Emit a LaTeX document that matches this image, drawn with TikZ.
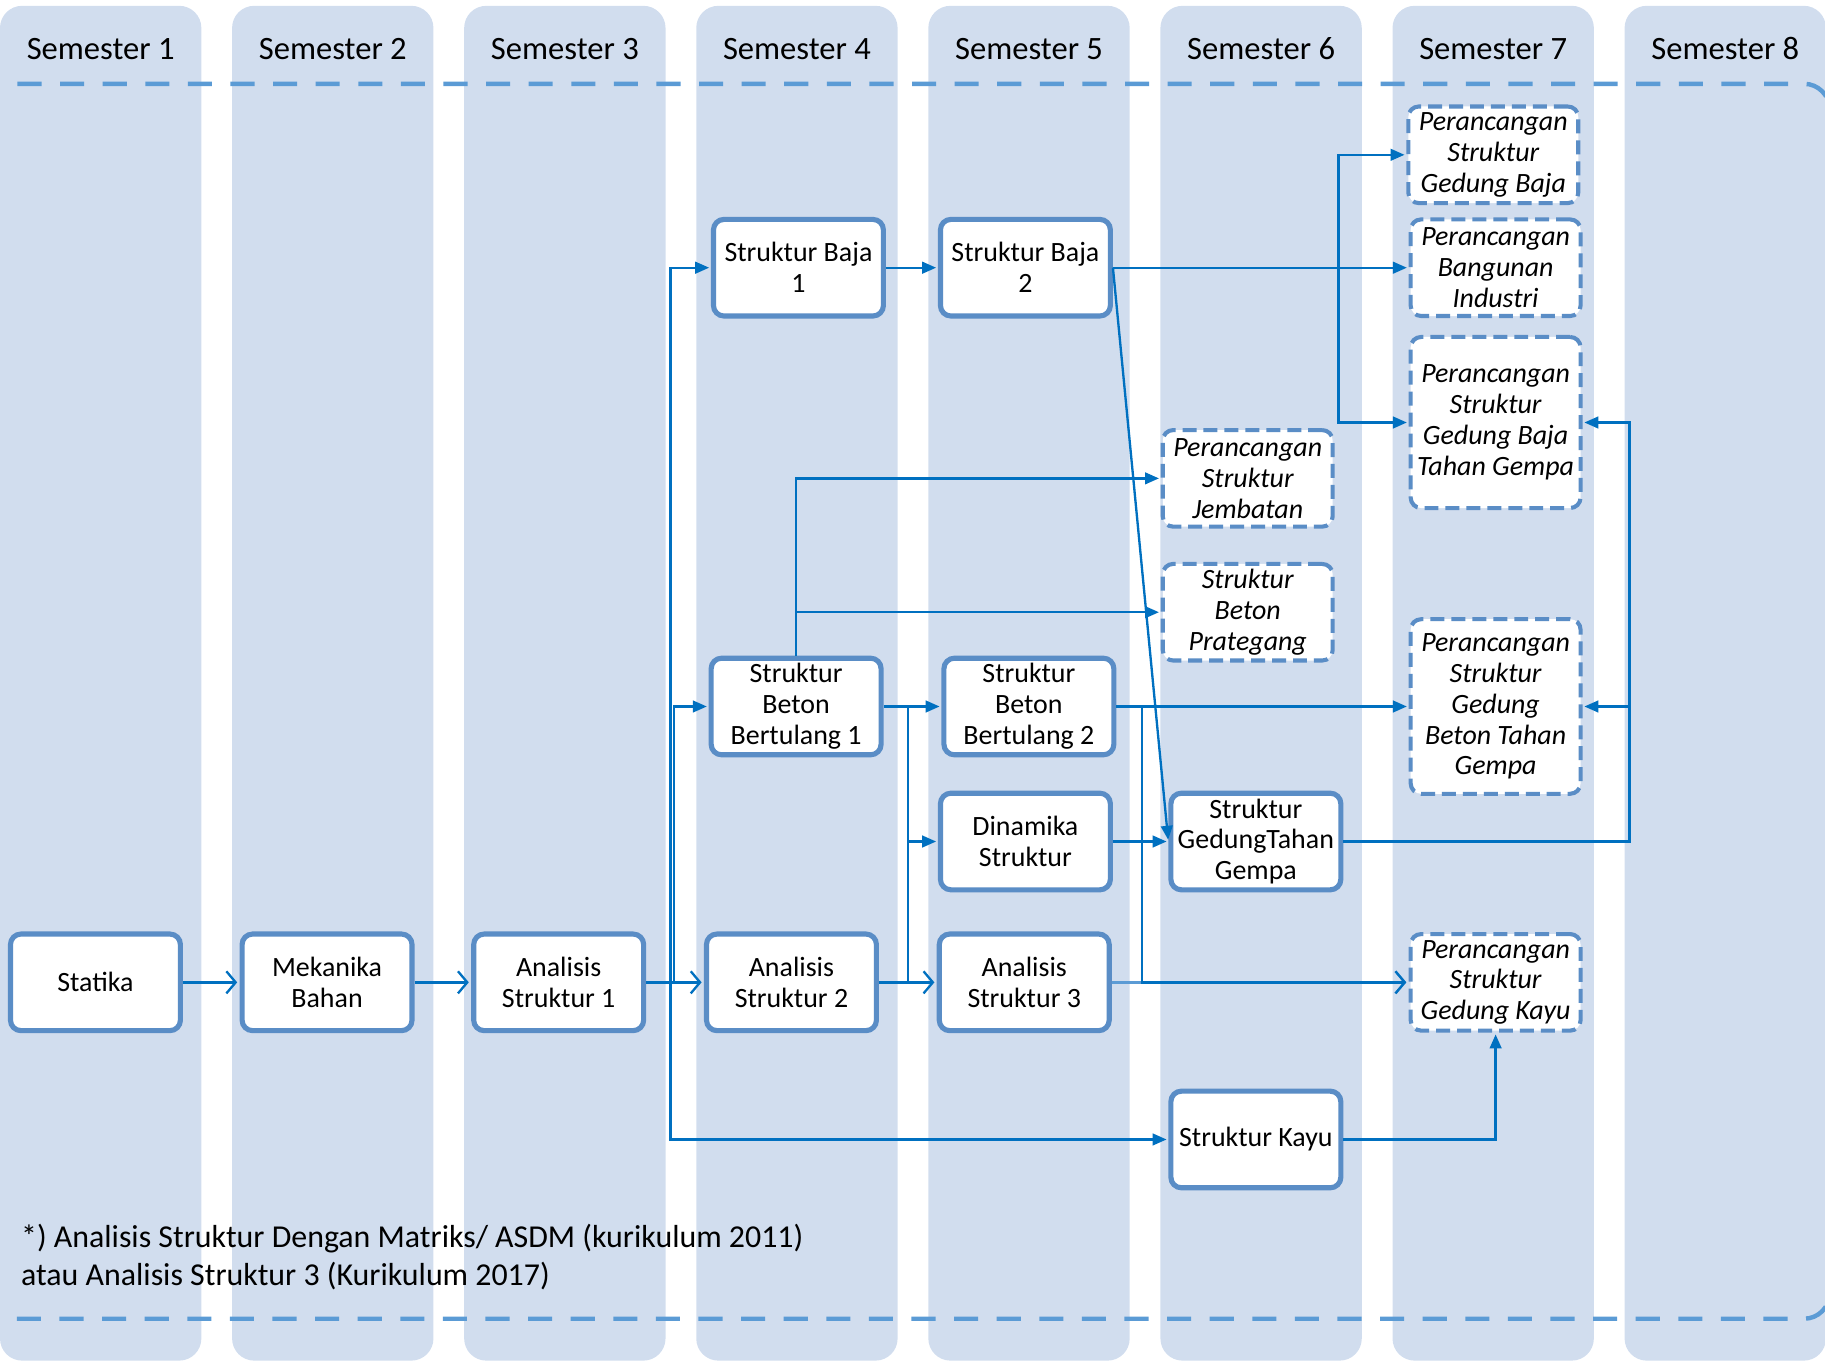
\documentclass[tikz,border=0pt]{standalone}
\usepackage{fontspec}
\setmainfont{Carlito}
\usetikzlibrary{positioning,arrows.meta}

\definecolor{laneblue}{HTML}{D1DDEE}
\definecolor{boxblue}{HTML}{5A8DC6}
\definecolor{linkblue}{HTML}{0070C0}
\definecolor{dashblue}{HTML}{5B9BD5}

\begin{document}
\begin{tikzpicture}[
  x=1pt, y=-1pt,
  lane/.style={fill=laneblue, rounded corners=19pt},
  sem/.style={font=\fontsize{28}{33}\selectfont, inner sep=0pt},
  frame/.style={draw=dashblue, line width=3.8pt, dash pattern=on 20.7pt off 15.9pt, rounded corners=22pt},
  course/.style={rectangle, draw=boxblue, line width=4.4pt, rounded corners=9pt, fill=white, minimum width=146pt, minimum height=83pt, inner sep=1pt, align=center, font=\fontsize{24}{26.5}\selectfont},
  elective/.style={course, line width=3.5pt, dash pattern=on 12pt off 6pt, font=\fontsize{24}{26.5}\selectfont\itshape},
  direct/.style={-{Triangle[length=12pt,width=10pt]}, draw=linkblue, line width=2pt, shorten >=1.5pt},
  seq/.style={-{Straight Barb[length=8pt,width=19pt]}, draw=linkblue, line width=2pt, shorten >=2pt},
  link/.style={draw=linkblue, line width=2pt}
]
\useasboundingbox (0,0) rectangle (1568,1170);
\clip (0,0) rectangle (1568,1170);

% semester lanes
\fill[lane] (0,5) rectangle (173,1169);
\fill[lane] (199.4,5) rectangle (372.4,1169);
\fill[lane] (398.8,5) rectangle (571.8,1169);
\fill[lane] (598.2,5) rectangle (771.2,1169);
\fill[lane] (797.6,5) rectangle (970.6,1169);
\fill[lane] (997,5) rectangle (1170,1169);
\fill[lane] (1196.4,5) rectangle (1369.4,1169);
\fill[lane] (1395.8,5) rectangle (1568.8,1169);

\node[sem] (S1) at (86.5,42) {Semester 1};
\node[sem] (S2) at (285.9,42) {Semester 2};
\node[sem] (S3) at (485.3,42) {Semester 3};
\node[sem] (S4) at (684.7,42) {Semester 4};
\node[sem] (S5) at (884.1,42) {Semester 5};
\node[sem] (S6) at (1083.5,42) {Semester 6};
\node[sem] (S7) at (1282.9,42) {Semester 7};
\node[sem] (S8) at (1482.3,42) {Semester 8};

% dashed frame
\draw[frame] (15,72) -- (1572,72) -- (1572,1133) -- (-10,1133);

% core courses
\node[course] (Statika) at (82,844) {Statika};
\node[course] (Mekanika) at (281,844) {Mekanika\\Bahan};
\node[course] (AS1) at (480,844) {Analisis\\Struktur 1};
\node[course] (AS2) at (680,844) {Analisis\\Struktur 2};
\node[course] (AS3) at (880,844) {Analisis\\Struktur 3};
\node[course] (Baja1) at (686,230) {Struktur Baja\\1};
\node[course] (Baja2) at (881,230) {Struktur Baja\\2};
\node[course] (Beton1) at (684,607) {Struktur\\Beton\\Bertulang 1};
\node[course] (Beton2) at (884,607) {Struktur\\Beton\\Bertulang 2};
\node[course] (Dinamika) at (881,723) {Dinamika\\Struktur};
\node[course] (Gempa) at (1079,723) {Struktur\\GedungTahan\\Gempa};
\node[course] (Kayu) at (1079,979) {Struktur Kayu};

% electives
\node[elective] (Jembatan) at (1072,411) {Perancangan\\Struktur\\Jembatan};
\node[elective] (Prategang) at (1072,526) {Struktur\\Beton\\Prategang};
\node[elective] (PSGBaja) at (1283,133) {Perancangan\\Struktur\\Gedung Baja};
\node[elective] (PBI) at (1285,230) {Perancangan\\Bangunan\\Industri};
\node[elective, minimum height=147pt] (PSGBajaGempa) at (1285,363) {Perancangan\\Struktur\\Gedung Baja\\Tahan Gempa};
\node[elective, minimum height=150pt] (PSGBetonGempa) at (1285,607) {Perancangan\\Struktur\\Gedung\\Beton Tahan\\Gempa};
\node[elective] (PSGKayu) at (1285,844) {Perancangan\\Struktur\\Gedung Kayu};

% note
\node[sem, font=\fontsize{27.4}{33}\selectfont, anchor=west, align=left] (Note) at (18,1080) {*) Analisis Struktur Dengan Matriks/ ASDM (kurikulum 2011)\\atau Analisis Struktur 3 (Kurikulum 2017)};

% branch points
\coordinate (hub1) at (576,844);
\coordinate (hub2) at (579,844);
\coordinate (hub3) at (1150,230);
\coordinate (hub4) at (780,607);
\coordinate (hub5) at (780,844);
\coordinate (hub6) at (981,607);
\coordinate (hub7) at (1400,723);

% analisis chain
\draw[seq] (Statika) -- (Mekanika);
\draw[seq] (Mekanika) -- (AS1);
\draw[seq] (AS1) -- (AS2);
\draw[seq] (AS2) -- (AS3);

% analisis 1 -> semester 4 and kayu
\draw[direct] (AS1.east) -- (hub1) |- (Baja1.west);
\draw[direct] (hub1) |- (Kayu.west);
\draw[direct] (hub2) |- (Beton1.west);

% baja
\draw[direct] (Baja1) -- (Baja2);
\draw[direct] (Baja2.east) -- (PBI.west);
\draw[direct] (Baja2.east) -- (hub3) |- (PSGBaja.west);
\draw[direct] (hub3) |- (PSGBajaGempa.west);
\draw[direct] (Baja2.east) -- (Gempa.west);

% beton
\draw[direct] (Beton1.north) |- (Jembatan.west);
\draw[direct] (Beton1.north |- Prategang.west) -- (Prategang.west);
\draw[direct] (Beton1) -- (Beton2);
\draw[link] (hub4) -- (hub5);
\draw[direct] (hub4 |- Dinamika.west) -- (Dinamika.west);
\draw[direct] (Dinamika) -- (Gempa);
\draw[direct] (Beton2) -- (PSGBetonGempa);

% gedung kayu
\draw[seq, draw=dashblue] (AS3) -- (PSGKayu);
\draw[seq] (hub6) |- (PSGKayu.west);
\draw[direct] (Kayu.east) -| (PSGKayu.south);

% tahan gempa
\draw[direct] (Gempa.east) -- (hub7) |- (PSGBetonGempa.east);
\draw[direct] (hub7) |- (PSGBajaGempa.east);

\end{tikzpicture}
\end{document}
